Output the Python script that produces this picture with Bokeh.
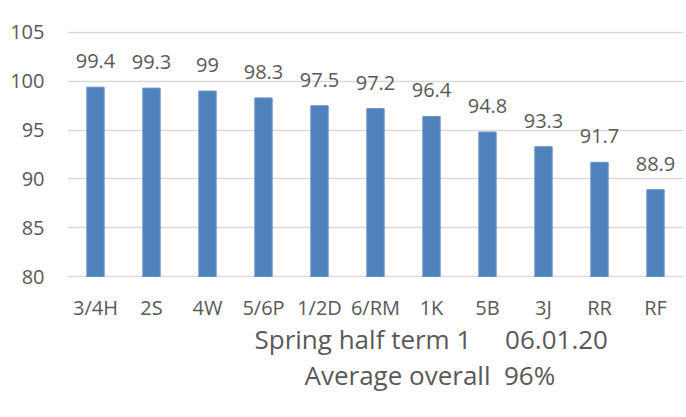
from bokeh.plotting import figure
from bokeh.models import ColumnDataSource, FactorRange, Range1d, Title, SingleIntervalTicker
from bokeh.core.properties import value
from bokeh.embed import file_html
from bokeh.resources import INLINE

classes = ["3/4H", "2S", "4W", "5/6P", "1/2D", "6/RM", "1K", "5B", "3J", "RR", "RF"]
attendance = [99.4, 99.3, 99.0, 98.3, 97.5, 97.2, 96.4, 94.8, 93.3, 91.7, 88.9]
NB = "\u00a0"
title_line1 = "Spring half term 1" + NB * 5 + "06.01.20"
title_line2 = "Average overall" + NB * 2 + "96%"

TXT = "#595959"
FONT = "Open Sans"

src = ColumnDataSource(dict(
    cls=classes,
    val=attendance,
    lab=["%g" % v for v in attendance],
))

p = figure(
    x_range=FactorRange(*classes, range_padding=0),
    y_range=Range1d(79.9, 105.1),
    width=686, height=417,
    output_backend="svg", toolbar_location=None,
    min_border_left=67, min_border_right=3, min_border_top=31, min_border_bottom=140,
    background_fill_color="white", border_fill_color="white",
    outline_line_color=None,
)

p.vbar(x="cls", top="val", bottom=80, width=0.31, source=src,
       fill_color="#4F81BD", line_color="#6A94C9", line_width=1)

p.text(x="cls", y="val", text="lab", source=src, text_align="center",
       text_baseline="alphabetic", y_offset=-26, text_color=TXT,
       text_font=value(FONT), text_font_size="20px")

# axes
p.yaxis.ticker = SingleIntervalTicker(interval=5)
p.yaxis.axis_line_color = None
p.yaxis.major_tick_line_color = None
p.yaxis.minor_tick_line_color = None
p.yaxis.major_label_text_font = FONT
p.yaxis.major_label_text_font_size = "20px"
p.yaxis.major_label_text_color = TXT
p.yaxis.major_label_standoff = 17

p.xaxis.axis_line_color = None
p.xaxis.major_tick_line_color = None
p.xaxis.major_label_text_font = FONT
p.xaxis.major_label_text_font_size = "20px"
p.xaxis.major_label_text_color = TXT
p.xaxis.major_label_standoff = 10

p.xgrid.grid_line_color = None
p.ygrid.grid_line_color = "#D9D9D9"
p.ygrid.grid_line_width = 1.5

p.add_layout(Title(text=title_line1, align="left", offset=187,
                   text_font=FONT, text_font_size="26px", text_color=TXT,
                   text_font_style="normal", standoff=-10), "below")
p.add_layout(Title(text=title_line2, align="left", offset=237,
                   text_font=FONT, text_font_size="26px", text_color=TXT,
                   text_font_style="normal", standoff=6), "below")

open("out.html", "w").write(file_html(p, INLINE))
